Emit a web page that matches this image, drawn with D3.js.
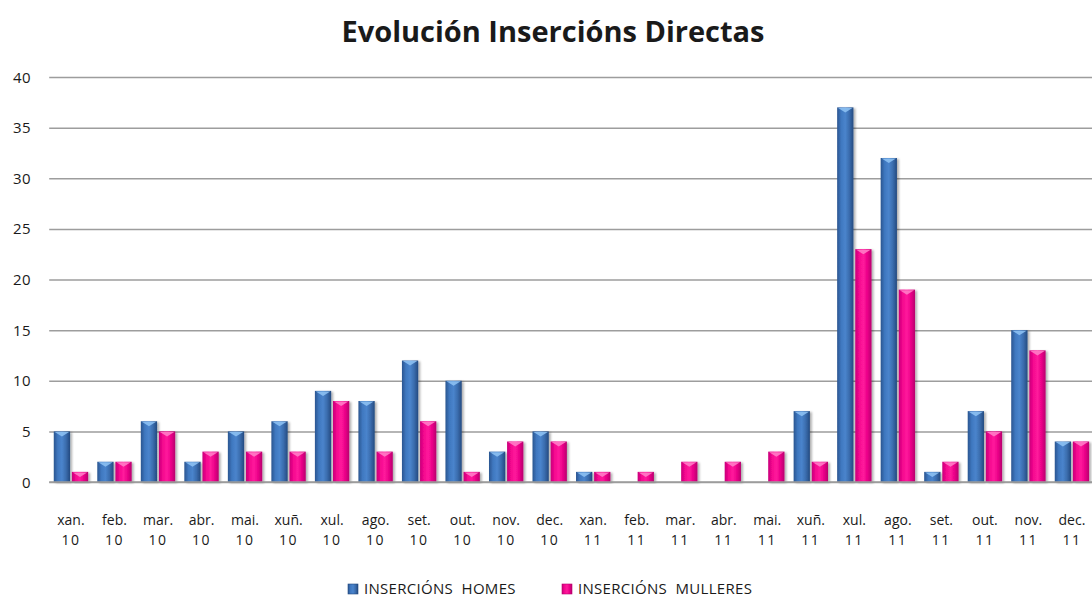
<!DOCTYPE html>
<html>
<head>
<meta charset="utf-8">
<script src="https://cdn.jsdelivr.net/npm/d3@7"></script>
<style>
body { margin: 0; background: #fff; }
svg { display: block; }
text { font-family: "Open Sans", "DejaVu Sans", sans-serif; fill: #1a1a1a; }
</style>
</head>
<body>
<svg></svg>
<script>
let width = 1092, height = 597

let months = ["xan.", "feb.", "mar.", "abr.", "mai.", "xuñ.", "xul.", "ago.", "set.", "out.", "nov.", "dec.",
              "xan.", "feb.", "mar.", "abr.", "mai.", "xuñ.", "xul.", "ago.", "set.", "out.", "nov.", "dec."]
let years = ["10", "10", "10", "10", "10", "10", "10", "10", "10", "10", "10", "10",
             "11", "11", "11", "11", "11", "11", "11", "11", "11", "11", "11", "11"]
let homes = [5, 2, 6, 2, 5, 6, 9, 8, 12, 10, 3, 5, 1, 0, 0, 0, 0, 7, 37, 32, 1, 7, 15, 4]
let mulleres = [1, 2, 5, 3, 3, 3, 8, 3, 6, 1, 4, 4, 1, 1, 2, 2, 3, 2, 23, 19, 2, 5, 13, 4]
let seriesNames = ["INSERCIÓNS  HOMES", "INSERCIÓNS  MULLERES"]
let yTicks = [0, 5, 10, 15, 20, 25, 30, 35, 40]

let svg = d3.select("svg").attr("width", width).attr("height", height)

let plotLeft = 49.2, plotRight = 1093.7, plotTop = 77, plotBottom = 482

let x = d3.scaleBand().domain(d3.range(months.length)).range([plotLeft, plotRight]).paddingInner(0.21).paddingOuter(0.105)
let inner = d3.scaleBand().domain([0, 1]).range([0, x.bandwidth()]).paddingInner(0.1)
let y = d3.scaleLinear().domain([0, 40]).range([plotBottom, plotTop])

// gradients for the bevelled bars
let defs = svg.append("defs")
let palettes = [
    {id: "gBlue", stops: ["#2a5590", "#3f78c0", "#4a84cc", "#3a6cad", "#244a80"], tip: "#8cc0f2"},
    {id: "gPink", stops: ["#c8007a", "#f5088f", "#ff1a9c", "#ea0088", "#b8006e"], tip: "#ff7cc6"}
]
palettes.forEach(p => {
    let g = defs.append("linearGradient").attr("id", p.id).attr("x1", 0).attr("x2", 1).attr("y1", 0).attr("y2", 0)
    p.stops.forEach((c, i) => g.append("stop").attr("offset", i / (p.stops.length - 1)).attr("stop-color", c))
})
let shadow = defs.append("filter").attr("id", "shadow").attr("x", "-30%").attr("y", "-10%").attr("width", "170%").attr("height", "120%")
shadow.append("feDropShadow").attr("dx", 2).attr("dy", 1).attr("stdDeviation", 1.2).attr("flood-color", "#000").attr("flood-opacity", 0.3)

// title
svg.append("text")
    .attr("x", 553).attr("y", 42)
    .attr("text-anchor", "middle")
    .style("font-size", "29px").style("font-weight", "bold")
    .text("Evolución Insercións Directas")

// grid + y axis
let yAxis = d3.axisLeft(y).tickValues(yTicks).tickSize(-(plotRight - plotLeft)).tickPadding(18)
let ga = svg.append("g").attr("transform", `translate(${plotLeft},0)`).call(yAxis)
ga.select(".domain").remove()
ga.selectAll(".tick line").attr("stroke", "#9d9d9d").attr("stroke-width", 1.5)
ga.selectAll(".tick text").style("font-size", "15px").style("letter-spacing", "0.5px").attr("fill", "#1a1a1a").attr("dy", "0.34em")

// bars
let series = [homes, mulleres]
series.forEach((vals, s) => {
    let p = palettes[s]
    let g = svg.append("g")
    vals.forEach((v, i) => {
        if (v <= 0) return
        let bx = x(i) + inner(s), bw = inner.bandwidth()
        let by = y(v), bh = y(0) - y(v)
        g.append("rect").attr("x", bx).attr("y", by).attr("width", bw).attr("height", bh)
            .attr("fill", `url(#${p.id})`).attr("filter", "url(#shadow)")
        // little highlight at the top of each bar
        let th = Math.min(5, bh)
        g.append("path")
            .attr("d", `M${bx + 1},${by + 0.5} L${bx + bw - 1},${by + 0.5} L${bx + bw / 2},${by + th} Z`)
            .attr("fill", p.tip).attr("opacity", 0.9)
    })
})

// baseline
svg.append("line").attr("x1", plotLeft).attr("x2", plotRight).attr("y1", y(0)).attr("y2", y(0))
    .attr("stroke", "#9d9d9d").attr("stroke-width", 1.5)

// x labels
let xl = svg.append("g").style("font-size", "14px")
months.forEach((m, i) => {
    let cx = x(i) + x.bandwidth() / 2
    xl.append("text").attr("x", cx).attr("y", 525).attr("text-anchor", "middle").text(m)
    xl.append("text").attr("x", cx).attr("y", 545).attr("text-anchor", "middle").style("letter-spacing", "1.5px").text(years[i])
})

// legend
let legendX = [348, 562]
seriesNames.forEach((name, s) => {
    let lg = svg.append("g").attr("transform", `translate(${legendX[s]},584)`)
    lg.append("rect").attr("width", 10).attr("height", 10).attr("fill", `url(#${palettes[s].id})`)
        .attr("stroke", s ? "#b8006e" : "#244a80").attr("stroke-width", 0.6)
    lg.append("text").attr("x", 16).attr("y", 10).style("font-size", "15px").style("letter-spacing", "0.3px").attr("fill", "#333")
        .attr("xml:space", "preserve").text(name)
})
</script>
</body>
</html>
